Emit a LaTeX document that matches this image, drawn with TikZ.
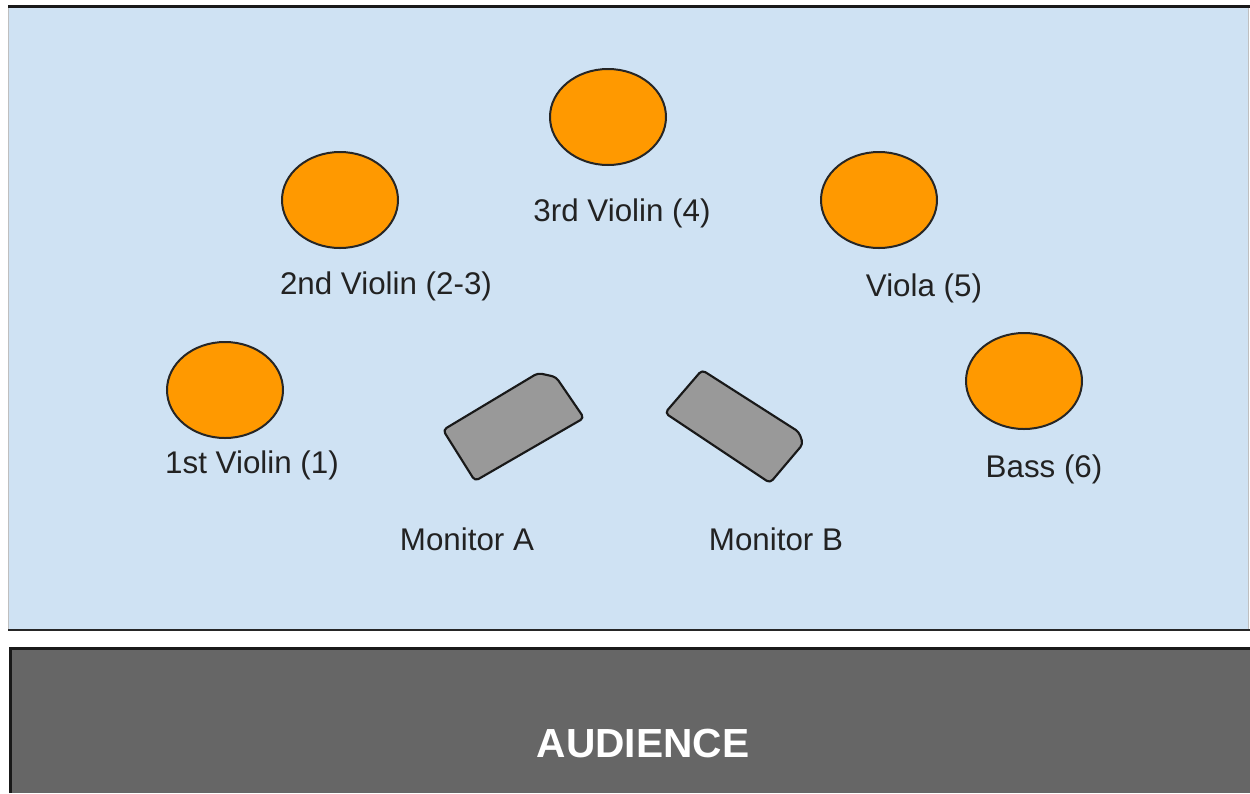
\documentclass[tikz,border=0pt]{standalone}
\usepackage{fontspec}
\setmainfont{Liberation Sans}
\usetikzlibrary{shapes.geometric}
\definecolor{stagecol}{HTML}{CFE2F3}
\definecolor{seatcol}{HTML}{FF9900}
\definecolor{moncol}{HTML}{999999}
\definecolor{audcol}{HTML}{666666}
\definecolor{txtcol}{HTML}{222222}
\tikzset{
  seat/.style={ellipse, draw=black!85, line width=1.5pt, fill=seatcol, minimum width=87pt, minimum height=72pt, inner sep=0pt},
  lbl/.style={anchor=base, text=txtcol, font=\fontsize{23.5}{28}\selectfont, inner sep=0pt},
  monitor/.style={draw=black!90, line width=1.6pt, fill=moncol, rounded corners=3pt, line join=round},
}
\begin{document}
\begin{tikzpicture}[x=0.75pt,y=-0.75pt]
\useasboundingbox (0,0) rectangle (1250,793);
\fill[white] (0,0) rectangle (1250,793);
% stage
\fill[stagecol] (8,6) rectangle (1248,630);
\draw[black!25, line width=1pt] (8.5,630) -- (8.5,6);
\draw[black!25, line width=1pt] (1248.5,630) -- (1248.5,6);
\draw[black!90, line width=1.8pt] (8,6.5) -- (1250,6.5);
\draw[black!85, line width=1.8pt] (8,630) -- (1250,630);
% audience
\fill[audcol] (10,648) rectangle (1250,793);
\draw[black!90, line width=1.8pt] (10.5,793) -- (10.5,648.5) -- (1250,648.5);
\node[anchor=base, text=white, font=\bfseries\fontsize{30.5}{36}\selectfont, inner sep=0pt] (aud) at (643,757) {AUDIENCE};
% seats
\node[seat] (s1) at (225,390) {};
\node[seat] (s2) at (340,200) {};
\node[seat] (s3) at (608,117) {};
\node[seat] (s4) at (879,200) {};
\node[seat] (s5) at (1024,381) {};
\node[lbl] (l1) at (252,473) {1st Violin (1)};
\node[lbl] (l2) at (386,294) {2nd Violin (2-3)};
\node[lbl] (l3) at (622,221) {3rd Violin (4)};
\node[lbl] (l4) at (924,296) {Viola (5)};
\node[lbl] (l5) at (1044,477) {Bass (6)};
% monitors
\draw[monitor] (475,481) -- (584,418) -- (556,377) -- (538,373) -- (443,430) -- cycle;
\draw[monitor] (665,413) -- (702,370) -- (799,432) -- (803,444) -- (770,483) -- cycle;
\node[lbl] (ma) at (467,550) {Monitor A};
\node[lbl] (mb) at (776,550) {Monitor B};
\end{tikzpicture}
\end{document}
